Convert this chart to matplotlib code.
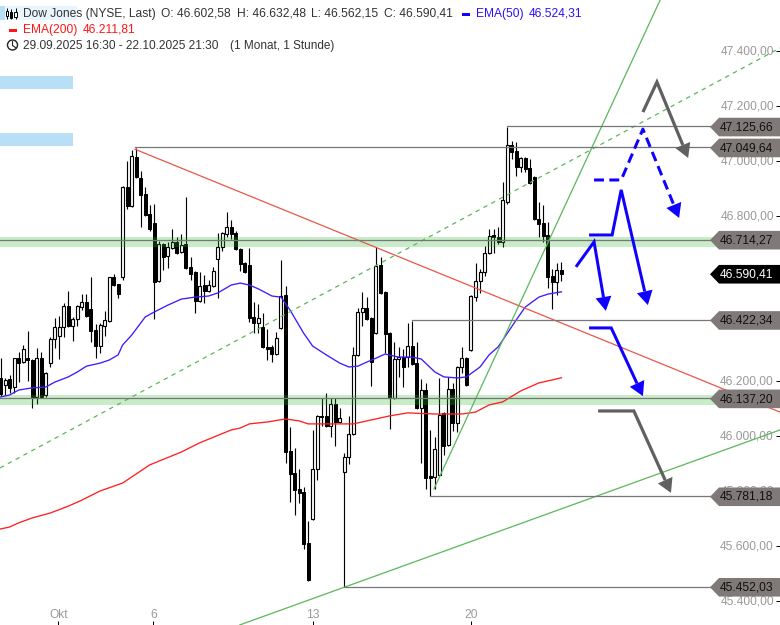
import numpy as np
import matplotlib
matplotlib.use("Agg")
import matplotlib.pyplot as plt
from matplotlib.patches import Polygon, Rectangle, Circle
from matplotlib.ticker import FixedLocator, FixedFormatter
from matplotlib.transforms import ScaledTranslation

plt.rcParams['font.family'] = ['Liberation Sans', 'DejaVu Sans']

# ---------- data ----------
opens = [46211,46186,46207,46178,46283,46269,46283,46276,46142,46283,46149,46265,46353,46364,46396,46473,46400,46425,46469,46487,
         46462,46385,46327,46400,46418,46578,46553,46578,46905,46836,47015,46938,46880,46807,46775,46564,46698,46655,46684,46705,
         46669,46698,46615,46596,46491,46549,46527,46545,46644,46687,46735,46760,46738,46680,46629,46622,46433,46411,46396,46324,
         46324,46298,46393,46513,45945,45865,45807,45796,45611,45698,45880,46073,46073,46036,46116,46051,45869,45924,46007,46295,
         46451,46465,46429,46374,46622,46524,46374,46138,46280,46287,46287,46327,46265,46102,46167,45855,45851,45858,46084,45967,
         46171,46047,46251,46283,46313,46505,46564,46596,46665,46731,46724,46705,46851,47058,47036,46978,47011,46975,46942,46789,
         46775,46731,46582,46560,46602.58]
highs = [46283,46211,46222,46283,46305,46331,46382,46280,46320,46305,46233,46360,46429,46436,46484,46527,46433,46476,46516,46516,
         46578,46407,46411,46454,46578,46589,46553,46909,47000,47040,47047,46964,46905,46840,46844,46709,46702,46705,46753,46724,
         46735,46869,46651,46600,46596,46585,46567,46615,46738,46742,46815,46786,46745,46684,46633,46684,46487,46480,46447,46389,
         46331,46378,46640,46545,46033,45956,45880,45814,45691,46022,46076,46138,46156,46138,46138,46102,45938,46073,46324,46465,
         46524,46505,46433,46687,46651,46527,46378,46342,46324,46316,46411,46418,46342,46207,46193,46022,45996,46211,46087,46215,
         46193,46254,46324,46287,46513,46629,46607,46691,46753,46753,46760,46924,47125,47073,47069,47015,47015,47007,46945,46851,
         46840,46778,46607,46629,46632.48]
lows = [46145,46149,46156,46156,46196,46265,46200,46102,46116,46142,46142,46251,46320,46280,46360,46396,46345,46400,46458,46433,
        46342,46283,46302,46364,46414,46545,46502,46567,46826,46833,46938,46760,46800,46745,46425,46560,46604,46611,46680,46662,
        46665,46607,46567,46447,46487,46484,46524,46542,46502,46673,46724,46716,46676,46600,46592,46414,46374,46374,46320,46276,
        46269,46294,46389,45902,45760,45713,45756,45589,45473,45695,45840,46036,46033,45996,45964,46047,45452,45898,46004,46291,
        46400,46422,46182,46371,46516,46302,46026,46135,46215,46178,46251,46258,46098,45902,45807,45781,45807,45855,45931,45964,
        46018,46015,46229,46182,46309,46491,46520,46582,46662,46665,46698,46687,46844,47007,46945,46960,46960,46916,46786,46724,
        46705,46538,46462,46513,46562.15]
closes = [46152,46204,46175,46283,46265,46316,46276,46142,46283,46142,46229,46353,46396,46396,46473,46400,46425,46473,46487,46436,
          46382,46327,46404,46422,46578,46549,46516,46905,46836,47018,46942,46876,46804,46753,46560,46698,46651,46687,46705,46665,
          46694,46611,46589,46491,46545,46527,46549,46600,46687,46738,46760,46735,46680,46625,46596,46429,46411,46429,46324,46316,
          46298,46356,46509,45942,45862,45804,45793,45607,45477,45880,46073,46069,46036,46116,46051,46065,45924,46007,46295,46451,
          46465,46425,46269,46618,46520,46371,46138,46280,46287,46251,46327,46262,46102,46167,45847,45847,45953,46076,45964,46171,
          46047,46251,46283,46185,46509,46564,46596,46665,46727,46724,46705,46858,47058,47033,46978,47011,46971,46920,46789,46771,
          46727,46578,46560,46604,46590.41]

ema50_idx = [0,2,4,7,10,12,15,17,19,22,24,26,27,29,32,34,37,40,43,46,48,51,53,55,57,60,62,64,67,69,72,75,77,79,81,83,85,88,91,93,96,98,101,103,106,108,110,114,116,119,121,124]
ema50 = [46142,46149,46167,46175,46178,46196,46215,46233,46254,46265,46276,46295,46331,46367,46433,46451,46476,46498,46505,46509,
         46520,46549,46556,46549,46535,46509,46505,46458,46374,46327,46295,46265,46251,46254,46269,46283,46298,46287,46287,46280,
         46233,46215,46211,46215,46251,46295,46324,46422,46469,46505,46516,46524.31]
ema200_idx = [0,2,4,7,11,15,18,22,27,33,40,44,51,53,55,59,63,66,68,78,81,86,90,96,102,105,108,111,115,119,122,124]
ema200 = [45662,45669,45684,45702,45720,45745,45767,45800,45829,45895,45942,45975,46022,46029,46044,46051,46062,46055,46044,46044,
          46055,46073,46084,46080,46080,46087,46113,46124,46164,46193,46204,46211.81]

level_values = [47125.66, 47049.64, 46714.27, 46422.34, 46137.20, 45781.18, 45452.03]
level_start = [112, 29.7, -1, 91, -1, 95, 76]
level_texts = ['47.125,66', '47.049,64', '46.714,27', '46.422,34', '46.137,20', '45.781,18', '45.452,03']
band_ranges = [(46687, 46724), (46113, 46149)]

last_value = 46590.41
last_text = '46.590,41'

red_trend = ([29.7, 172.3], [47043, 46087])
green_low = ([52.9, 172.3], [45313, 46022])
green_steep = ([95.8, 145.8], [45807, 47585])
green_dash = ([-0.1, 172.3], [45884, 47411])

price_ticks = [47400, 47200, 47000, 46800, 46600, 46400, 46200, 46000, 45800, 45600, 45400]
price_labels = ['47.400,00', '47.200,00', '47.000,00', '46.800,00', '', '',
                '46.200,00', '46.000,00', '45.800,00', '45.600,00', '45.400,00']
date_ticks = [12.8, 33.8, 69, 104]
date_labels = ['Okt', '6', '13', '20']

arrow_gray_top = ([142.0, 145.1, 152.0], [47178, 47287, 47011])
arrow_blue_dash = ([131.2, 137.2, 142.0, 150.0], [46931, 46931, 47116, 46793])
arrow_blue_a = ([127.2, 131.2, 133.8], [46615, 46706, 46455])
arrow_blue_b = ([130.1, 135.2, 137.2, 143.1], [46731, 46731, 46895, 46476])
arrow_blue_c = ([130.1, 135.0, 142.0], [46393, 46393, 46145])
arrow_gray_low = ([132.1, 140.0, 148.2], [46091, 46091, 45793])

# ---------- layout ----------
W, H = 780, 625
PX_PER_BAR = 4.524
PX_PER_PRICE = 0.275
fig = plt.figure(figsize=(W / 100, H / 100), dpi=100, facecolor='white')
ax = fig.add_axes([0, 0, 1, 1])
ax.set_xlim(-0.5 / PX_PER_BAR, (W - 0.5) / PX_PER_BAR)
ax.set_ylim(47400 - (H - 51) / PX_PER_PRICE, 47400 + 51 / PX_PER_PRICE)
for s in ax.spines.values():
    s.set_visible(False)
ax.set_axisbelow('line')

px = 0.72  # one pixel in points
GREY_TXT = '#9a9a9a'

ax.yaxis.tick_right()
ax.yaxis.set_major_locator(FixedLocator(price_ticks))
ax.yaxis.set_major_formatter(FixedFormatter(price_labels))
ax.tick_params(axis='y', direction='in', length=4 * px, width=px, color='black',
               labelcolor=GREY_TXT, labelsize=8.64, pad=-6 * px)
fig.canvas.draw()
lift = ScaledTranslation(0, 1.0 / 100, fig.dpi_scale_trans)
for tick in ax.yaxis.get_major_ticks():
    tick.label2.set_ha('right')
    tick.label2.set_transform(tick.label2.get_transform() + lift)
ax.xaxis.set_major_locator(FixedLocator(date_ticks))
ax.xaxis.set_major_formatter(FixedFormatter(date_labels))
ax.tick_params(axis='x', direction='in', length=4 * px, width=px, color='black',
               labelcolor=GREY_TXT, labelsize=8.64, pad=-16 * px)

# candles
idx = np.arange(len(opens))
o, h, l, c = map(np.array, (opens, highs, lows, closes))
ax.vlines(idx, l, h, color='black', lw=1.0 * px * 1.15, zorder=3)
up = c >= o
body_w = 3.0 / PX_PER_BAR
ax.bar(idx[up], (c - o)[up], bottom=o[up], width=body_w, facecolor='white', edgecolor='black',
       linewidth=1.15 * px, zorder=3.2)
ax.bar(idx[~up], (o - c)[~up], bottom=c[~up], width=body_w, facecolor='black', edgecolor='black',
       linewidth=1.0 * px, zorder=3.2)

# bands
for lo_b, hi_b in band_ranges:
    ax.axhspan(lo_b, hi_b, facecolor='#2db52d', alpha=0.26, edgecolor='none', zorder=4)

# averages
ax.plot(ema50_idx, ema50, color='#3a1cff', lw=1.1 * px * 1.2, zorder=5)
ax.plot(ema200_idx, ema200, color='#ff2020', lw=1.1 * px * 1.2, zorder=5)

# trend lines
ax.plot(*red_trend, color='#e8584e', lw=1.15 * px * 1.1, zorder=5)
ax.plot(*green_low, color='#5cb85c', lw=1.15 * px * 1.1, zorder=5)
ax.plot(*green_steep, color='#5cb85c', lw=1.15 * px * 1.1, zorder=5)
ax.plot(*green_dash, color='#5cb85c', lw=1.15 * px * 1.1, zorder=5, dashes=(3.5, 3.5))

# horizontal levels
right_edge = (W - 0.5) / PX_PER_BAR
for v, s in zip(level_values, level_start):
    ax.plot([s, right_edge], [v, v], color='#777777', lw=1.25 * px, zorder=5.5)


def forecast(xs, ys, color, lw_px, dashed=False, head_len=14, head_hw=8):
    xs = np.array(xs, float)
    ys = np.array(ys, float)
    sx, sy = xs * PX_PER_BAR, ys * PX_PER_PRICE
    d = np.array([sx[-1] - sx[-2], sy[-1] - sy[-2]])
    u = d / np.hypot(*d)
    n = np.array([-u[1], u[0]])
    tip = np.array([sx[-1], sy[-1]])
    back = tip - u * head_len
    line_x = np.r_[xs[:-1], back[0] / PX_PER_BAR]
    line_y = np.r_[ys[:-1], back[1] / PX_PER_PRICE]
    kw = dict(dashes=(3.3, 1.8)) if dashed else {}
    ax.plot(line_x, line_y, color=color, lw=lw_px * px, zorder=6, solid_joinstyle='miter',
            solid_capstyle='butt', dash_capstyle='butt', **kw)
    w1 = back + n * head_hw
    w2 = back - n * head_hw
    tri = np.array([tip, w1, w2]) / np.array([PX_PER_BAR, PX_PER_PRICE])
    ax.add_patch(Polygon(tri, closed=True, facecolor=color, edgecolor='none', zorder=6.2))


BLUE = '#1000ff'
GRAY = '#606060'
forecast(*arrow_gray_top, GRAY, 3.2)
forecast(*arrow_gray_low, GRAY, 3.2)
forecast(*arrow_blue_dash, BLUE, 3.0, dashed=True)
forecast(*arrow_blue_a, BLUE, 3.0)
forecast(*arrow_blue_b, BLUE, 3.0)
forecast(*arrow_blue_c, BLUE, 3.0)

# ---------- overlay in pixel space: value tags, header ----------
ov = fig.add_axes([0, 0, 1, 1], facecolor='none', zorder=10)
ov.set_xlim(0, W)
ov.set_ylim(H, 0)
ov.axis('off')


def ypx(v):
    return 51 + (47400 - v) * PX_PER_PRICE


def tag(v, text, face, tc):
    y = ypx(v) + 0.6
    hh = 9.3
    ov.add_patch(Polygon([(710, y), (719, y - hh), (781, y - hh), (781, y + hh), (719, y + hh)],
                         closed=True, facecolor=face, edgecolor='none', zorder=3))
    ov.text(719.5, y + 0.2, text, color=tc, fontsize=8.64, va='center', ha='left', zorder=4)


for v, t in zip(level_values, level_texts):
    tag(v, t, '#7f7a77', '#111111')
tag(last_value, last_text, 'black', 'white')

# blue rectangles
for y0 in (76, 133):
    ov.add_patch(Rectangle((0, y0), 72.5, 13, facecolor='#b9dff7', edgecolor='none'))
ov.add_patch(Rectangle((0, 6), 77, 14, facecolor='#e9f5fd', edgecolor='none', zorder=0.5))
ov.add_patch(Rectangle((0, 6), 5, 14, facecolor='#b9dff7', edgecolor='none', zorder=0.6))

TXT = '#333333'
TBLUE = '#2a10ff'
TRED = '#ff1515'


def label(x, y, s, color=TXT, size=8.64):
    ov.text(x, y, s, color=color, fontsize=size, va='baseline', ha='left')


ROW1, ROW2, ROW3 = 17, 33, 49
label(23, ROW1, 'Dow Jones (NYSE, Last)')
label(161, ROW1, 'O: 46.602,58')
label(237, ROW1, 'H: 46.632,48')
label(311, ROW1, 'L: 46.562,15')
label(384, ROW1, 'C: 46.590,41')
label(476, ROW1, 'EMA(50)', TBLUE)
label(529, ROW1, '46.524,31', TBLUE)
label(23, ROW2, 'EMA(200)', TRED)
label(83, ROW2, '46.211,81', TRED)
label(23, ROW3, '29.09.2025 16:30 - 22.10.2025 21:30', size=8.55)
label(230, ROW3, '(1 Monat, 1 Stunde)', size=8.5)
ov.add_patch(Rectangle((462, 13), 8, 3, facecolor='#1000ff', edgecolor='none'))
ov.add_patch(Rectangle((9, 29), 8, 3, facecolor='#ff1515', edgecolor='none'))

# candlestick icon
for xi, y0, y1, b0, b1, fill in [(7, 8, 19, 11, 16, 'white'), (11, 9, 19, 12, 18, 'black'), (15.5, 8, 19, 12, 17, 'white')]:
    ov.plot([xi, xi], [y0, y1], color='black', lw=0.7, solid_capstyle='butt')
    ov.add_patch(Rectangle((xi - 1.3, b0), 2.6, b1 - b0, facecolor=fill, edgecolor='black', lw=0.7, zorder=3))
# clock icon
ov.add_patch(Circle((12.5, 45), 5, facecolor='white', edgecolor='#222222', lw=1.0))
ov.plot([12.5, 12.5, 15.5], [41.5, 45.5, 47.5], color='#222222', lw=0.8)

fig.savefig('out.png', dpi=100, facecolor='white')
